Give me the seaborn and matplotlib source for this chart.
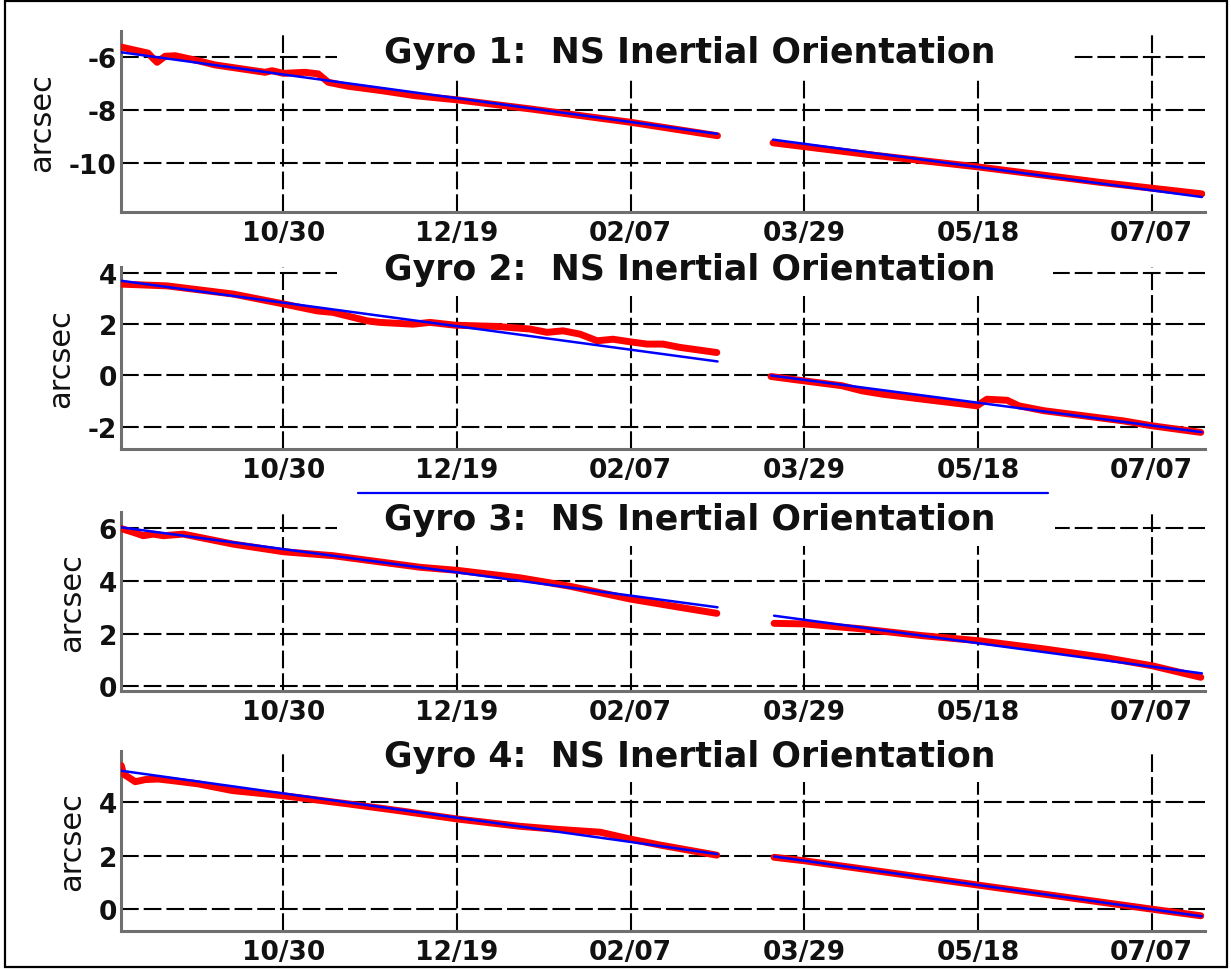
import numpy as np
import pandas as pd
import matplotlib
matplotlib.use("Agg")
import matplotlib.pyplot as plt
from matplotlib.patches import Rectangle
from matplotlib.lines import Line2D
import seaborn as sns

# ---------------------------------------------------------------------------
# Data: days counted from 30 Oct (day 0), orientation in arcsec.
# Each gyro has two tracking segments (a, b) and a linear trend per segment.
# ---------------------------------------------------------------------------
tick_days = [0, 50, 100, 150, 200, 250]
tick_labels = ["10/30", "12/19", "02/07", "03/29", "05/18", "07/07"]
day_range = (-46.8, 265.4)

titles = [
    "Gyro 1:  NS Inertial Orientation",
    "Gyro 2:  NS Inertial Orientation",
    "Gyro 3:  NS Inertial Orientation",
    "Gyro 4:  NS Inertial Orientation",
]

# Gyro 1
g1_days_a = [-46.7, -44.1, -39.0, -37.5, -36.4, -35.0, -34.1, -31.2, -24.6, -19.7,
             -5.3, -3.3, 0.0, 6.2, 10.0, 12.9, 18.6, 28.4, 37.9, 50.3, 71.0, 100.0, 125.0]
g1_vals_a = [-5.61, -5.69, -5.84, -6.05, -6.19, -6.05, -5.96, -5.94, -6.13, -6.29,
             -6.57, -6.51, -6.61, -6.57, -6.63, -6.95, -7.10, -7.27, -7.46, -7.62,
             -7.96, -8.47, -8.98]
g1_days_b = [141.0, 170.0, 200.3, 235.0, 264.5]
g1_vals_b = [-9.25, -9.72, -10.17, -10.75, -11.19]
g1_fit_days = [[-46.7, 125.0], [141.0, 264.5]]
g1_fit_vals = [[-5.81, -8.91], [-9.13, -11.31]]

# Gyro 2
g2_days_a = [-46.9, -33.5, -14.5, -1.0, 9.7, 14.3, 24.1, 27.8, 37.3, 42.2, 49.4,
             61.5, 71.0, 75.9, 80.5, 85.4, 90.3, 94.9, 99.8, 104.7, 109.3, 114.2, 124.8]
g2_vals_a = [3.58, 3.51, 3.19, 2.83, 2.53, 2.47, 2.14, 2.08, 2.01, 2.08, 1.97,
             1.92, 1.82, 1.69, 1.75, 1.62, 1.36, 1.42, 1.32, 1.23, 1.23, 1.10, 0.90]
g2_days_b = [140.4, 149.9, 160.8, 166.6, 172.4, 184.1, 195.7, 199.7, 202.6, 208.4,
             211.8, 219.0, 230.5, 242.0, 250.1, 264.2]
g2_vals_b = [-0.04, -0.21, -0.40, -0.60, -0.73, -0.93, -1.12, -1.19, -0.93, -0.97,
             -1.19, -1.38, -1.58, -1.78, -1.97, -2.23]
g2_fit_days = [[-46.7, 125.0], [140.4, 264.5]]
g2_fit_vals = [[3.71, 0.55], [0.0, -2.22]]

# Gyro 3
g3_days_a = [-47.0, -43.3, -40.4, -37.5, -34.6, -28.9, -14.5, 0.0, 14.3, 39.4,
             50.3, 68.1, 82.5, 100.0, 114.1, 124.8]
g3_vals_a = [6.00, 5.85, 5.72, 5.78, 5.72, 5.78, 5.40, 5.11, 4.96, 4.52,
             4.40, 4.12, 3.80, 3.31, 3.00, 2.77]
g3_days_b = [141.3, 149.9, 166.6, 184.1, 200.3, 219.0, 236.2, 250.1, 264.2]
g3_vals_b = [2.39, 2.37, 2.18, 1.92, 1.73, 1.42, 1.10, 0.78, 0.34]
g3_fit_days = [[-47.0, 125.0], [141.3, 264.5]]
g3_fit_vals = [[6.04, 3.00], [2.68, 0.49]]

# Gyro 4
g4_days_a = [-46.7, -46.1, -42.7, -39.8, -36.1, -32.0, -24.6, -14.8, -0.4, 18.6,
             33.0, 50.3, 68.1, 79.6, 91.2, 100.0, 108.4, 124.8]
g4_vals_a = [5.37, 5.06, 4.77, 4.85, 4.87, 4.81, 4.69, 4.44, 4.25, 3.94,
             3.69, 3.37, 3.10, 2.98, 2.88, 2.62, 2.40, 2.02]
g4_days_b = [141.3, 150.0, 200.0, 250.0, 264.2]
g4_vals_b = [1.94, 1.81, 0.90, 0.00, -0.25]
g4_fit_days = [[-46.7, 125.0], [141.3, 264.5]]
g4_fit_vals = [[5.18, 2.06], [1.97, -0.27]]

y_ticks = [[-10, -8, -6], [-2, 0, 2, 4], [0, 2, 4, 6], [0, 2, 4]]
y_limits = [(-11.88, -5.0), (-2.88, 4.25), (-0.18, 6.62), (-0.82, 5.92)]

measured = [
    (g1_days_a, g1_vals_a, g1_days_b, g1_vals_b),
    (g2_days_a, g2_vals_a, g2_days_b, g2_vals_b),
    (g3_days_a, g3_vals_a, g3_days_b, g3_vals_b),
    (g4_days_a, g4_vals_a, g4_days_b, g4_vals_b),
]
trends = [
    (g1_fit_days, g1_fit_vals),
    (g2_fit_days, g2_fit_vals),
    (g3_fit_days, g3_fit_vals),
    (g4_fit_days, g4_fit_vals),
]

# ---------------------------------------------------------------------------
# Styling
# ---------------------------------------------------------------------------
sns.set_style("white")
plt.rcParams["font.family"] = ["DejaVu Sans"]
plt.rcParams["axes.axisbelow"] = True

W, H = 1231, 970
fig = plt.figure(figsize=(W / 100, H / 100), dpi=100)

# panel frames in pixels: (top, bottom)
panel_px = [(32, 213), (268, 450), (513, 692), (752, 932)]
left_px, right_px = 121, 1205
# title baseline (axes fraction) and lower edge of the white title backing
title_base = [0.827, 0.934, 0.905, 0.918]
title_box_low = [0.735, 0.841, 0.810, 0.828]
title_box_right = [0.878, 0.860, 0.862, 0.862]

grid_style = (0, (8.5, 2.4))

for i in range(4):
    top, bot = panel_px[i]
    ax = fig.add_axes([left_px / W, 1 - bot / H, (right_px - left_px) / W, (bot - top) / H])

    da, va, db, vb = measured[i]
    df = pd.DataFrame({
        "day": list(da) + list(db),
        "arcsec": list(va) + list(vb),
        "segment": ["a"] * len(da) + ["b"] * len(db),
    })
    sns.lineplot(data=df, x="day", y="arcsec", units="segment", estimator=None,
                 sort=False, color="#ff0000", linewidth=5.0, ax=ax,
                 solid_capstyle="round", solid_joinstyle="round", zorder=3)

    fd, fv = trends[i]
    fit_df = pd.DataFrame({
        "day": fd[0] + fd[1],
        "arcsec": fv[0] + fv[1],
        "segment": ["a", "a", "b", "b"],
    })
    sns.lineplot(data=fit_df, x="day", y="arcsec", units="segment", estimator=None,
                 sort=False, color="#0000ff", linewidth=1.8, ax=ax, zorder=4)

    ax.set_xlim(*day_range)
    ax.set_ylim(*y_limits[i])
    ax.set_xticks(tick_days)
    ax.set_xticklabels(tick_labels)
    ax.set_yticks(y_ticks[i])
    ax.set_yticklabels([str(t) for t in y_ticks[i]])
    ax.tick_params(axis="both", length=0, labelsize=19)
    ax.tick_params(axis="x", pad=6)
    ax.tick_params(axis="y", pad=3)
    for lab in ax.get_xticklabels() + ax.get_yticklabels():
        lab.set_fontweight("bold")
        lab.set_color("#111111")

    ax.set_xlabel("")
    ax.set_ylabel("arcsec", fontsize=22, color="#111111", labelpad=9)

    ax.grid(True, color="black", linewidth=1.5, linestyle=grid_style)

    for side in ["top", "right"]:
        ax.spines[side].set_visible(False)
    for side in ["left", "bottom"]:
        ax.spines[side].set_color("#6f6f6f")
        ax.spines[side].set_linewidth(2.2)

    # white backing behind the panel heading
    ax.add_patch(Rectangle((0.199, title_box_low[i]), title_box_right[i] - 0.199,
                           1.08 - title_box_low[i], transform=ax.transAxes,
                           facecolor="white", edgecolor="none", zorder=2,
                           clip_on=False))
    ax.text(0.525, title_base[i], titles[i], transform=ax.transAxes,
            ha="center", va="baseline", fontsize=25, fontweight="bold",
            color="#111111", zorder=6, clip_on=False)

# separator stroke between the second and third panels
fig.add_artist(Line2D([358 / W, 1048 / W], [1 - 494 / H, 1 - 494 / H],
                      color="#0000ff", linewidth=1.6, transform=fig.transFigure))

# outer frame
fig.add_artist(Rectangle((5 / W, 2 / H), (1227 - 5) / W, (968 - 2) / H,
                         transform=fig.transFigure, fill=False,
                         edgecolor="black", linewidth=1.6))

fig.savefig("out.png", dpi=100, facecolor="white")
